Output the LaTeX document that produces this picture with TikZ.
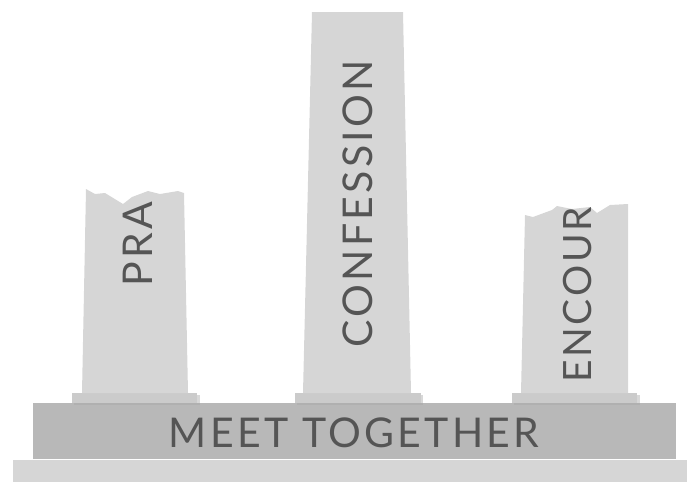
\documentclass[tikz,border=0pt]{standalone}
\usepackage{fontspec}
\setmainfont{Lato}
\definecolor{pillarC}{HTML}{D6D6D6}
\definecolor{plinthC}{HTML}{CBCBCB}
\definecolor{slabC}{HTML}{B8B8B8}
\definecolor{baseC}{HTML}{D6D6D6}
\definecolor{shadowC}{HTML}{A8A8A8}
\definecolor{textC}{HTML}{555555}
\begin{document}
\begin{tikzpicture}[x=1pt,y=-1pt,
  pillar/.style={fill=pillarC, draw=none},
  plinth/.style={fill=plinthC, draw=none},
  shadowbox/.style={fill=shadowC, opacity=0.45, draw=none},
  label/.style={text=textC, font=\fontsize{41}{41}\selectfont\addfontfeatures{LetterSpace=8}, inner sep=0pt},
  vlabel/.style={label, rotate=90, anchor=base west}]
\useasboundingbox (0,0) rectangle (687,482);
% base and slab
\fill[baseC] (13,460) rectangle (687,482);
\fill[slabC] (33,403) rectangle (676,459);
\node[label] (meet) at (354,433) {MEET TOGETHER};
% plinths with shadows
\fill[shadowbox] (74,395) rectangle (200,405);
\fill[plinth] (72,393) rectangle (197,403);
\fill[shadowbox] (297,395) rectangle (423,405);
\fill[plinth] (295,393) rectangle (421,403);
\fill[shadowbox] (514,395) rectangle (640,405);
\fill[plinth] (512,393) rectangle (637,403);
% left pillar
\begin{scope}
\path[pillar] (82,393) -- (86,189) -- (95,194) -- (105,193) -- (123,204) -- (132,197) -- (148,191) -- (160,194) -- (178,191) -- (184,193) -- (188,393) -- cycle;
\clip (82,393) -- (86,189) -- (95,194) -- (105,193) -- (123,204) -- (132,197) -- (148,191) -- (160,194) -- (178,191) -- (184,193) -- (188,393) -- cycle;
\node[vlabel] (pra) at (152,287) {PRA};
\end{scope}
% middle pillar
\begin{scope}
\path[pillar] (303,393) -- (312,12) -- (403,12) -- (411,393) -- cycle;
\node[vlabel] (conf) at (372,348) {CONFESSION};
\end{scope}
% right pillar
\begin{scope}
\path[pillar] (521,393) -- (525,215) -- (533,217) -- (552,210) -- (557,206) -- (572,209) -- (590,207) -- (597,213) -- (610,205) -- (628,204) -- (628,393) -- cycle;
\clip (521,393) -- (525,215) -- (533,217) -- (552,210) -- (557,206) -- (572,209) -- (590,207) -- (597,213) -- (610,205) -- (628,204) -- (628,393) -- cycle;
\node[vlabel, font=\fontsize{39}{39}\selectfont\addfontfeatures{LetterSpace=7}] (enc) at (591,383) {ENCOURA};
\end{scope}
\end{tikzpicture}
\end{document}
